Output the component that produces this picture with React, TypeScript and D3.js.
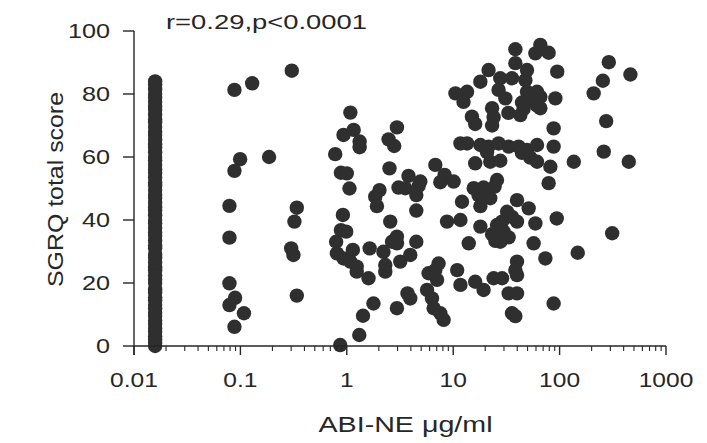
import React from "react";
import * as d3 from "d3";

// Undetectable ABI-NE (plotted at the lower detection column)
const zeroColumnX = 0.0158;
const zeroColumnScores = [0, 1, 2, 3, 4.5, 5.5, 7, 8, 9.5, 10.5, 12, 13, 14.5, 15.5, 17, 18, 20, 21, 22.5, 24, 25, 26.5, 28, 29, 31, 32, 33.5, 35, 36, 37.5, 39, 40, 41.5, 43, 44, 45.5, 47, 48, 49.5, 51, 52, 53.5, 55, 56, 57.5, 59, 60, 61.5, 63, 64, 65.5, 67, 68, 69.5, 71, 72, 73.5, 75, 76, 77.5, 79, 80, 81.5, 83, 84];

// Detectable ABI-NE (µg/ml) and SGRQ total score
const abiNE = [
  0.0879, 0.129, 0.304, 0.0994, 0.0879, 0.186, 0.0789, 0.339, 0.322, 0.0789, 0.3, 0.315, 0.0789, 0.0891, 0.0789, 0.108, 0.0879, 0.339,
  1.08, 0.931, 1.16, 1.32, 1.32, 0.778, 0.88, 1.0, 1.06, 0.919, 0.88, 0.987, 0.794, 0.807, 0.931, 1.08, 1.24, 1.24, 1.14, 1.6, 1.64, 1.78, 1.42, 1.31, 0.867,
  2.96, 2.47, 2.79, 2.52, 2.03, 1.85, 1.92, 3.06, 3.54, 3.8, 4.91, 4.73, 4.5, 4.5, 2.56, 2.96, 2.96, 2.66, 2.21, 2.3, 2.3, 3.18, 3.95, 4.5, 3.72, 3.95, 2.96,
  6.79, 8.3, 7.57, 10.1, 5.87, 6.79, 7.29, 7.05, 5.68, 6.32, 6.55, 7.57, 8.13, 10.9, 8.75, 11.7, 14.0, 11.7, 16.1, 19.3, 24.0, 28.8, 35.7, 38.4, 39.8, 38.4, 39.8, 33.2, 39.8,
  38.4, 65.9, 59.2, 78.9, 38.4, 49.4, 95, 21.5, 18.0, 27.7, 35.7, 47.7, 10.5, 13.5, 12.5, 26.7, 30.9, 49.4, 61.4, 65.9, 53.1, 44.3, 61.4, 45.9, 65.9, 91.2, 23.2, 24.0, 33, 42.8, 15.0, 16.1, 23.2, 87.9,
  11.7, 13.5, 18.0, 21.5, 26.7, 33.2, 41.2, 49.4, 61.4, 53.1, 87.9, 20.8, 44.3, 22.3, 16.1, 27.7, 81.9, 136, 260, 447, 290, 463, 255, 209, 274,
  15.6, 19.3, 24.5, 78.9, 61.4, 25.8,
  12.1, 17.3, 18.0, 22.3, 39.8, 51.2, 32.1,
  18.0, 25.8, 28.8, 39.8, 35.7, 29.8, 23.2, 33.2, 27.7, 24.9, 59.2, 94, 57.0, 73.5, 148, 312, 87.9
];
const sgrqScore = [
  81.3, 83.4, 87.4, 59.3, 55.6, 60.0, 44.5, 43.9, 39.5, 34.4, 31.0, 28.9, 19.9, 15.3, 13.0, 10.4, 6.1, 16.0,
  74.1, 67.0, 68.6, 64.9, 63.1, 60.9, 55.0, 54.8, 50.0, 41.6, 36.8, 36.3, 33.1, 29.4, 27.8, 26.8, 25.2, 23.6, 30.5, 21.5, 31.0, 13.5, 9.6, 3.5, 0.3,
  69.4, 65.6, 63.5, 56.4, 49.5, 47.4, 44.4, 50.3, 50.1, 54.0, 52.2, 50.8, 47.9, 43.0, 39.5, 34.7, 32.6, 33.1, 29.9, 25.7, 23.6, 26.8, 28.9, 33.1, 16.7, 15.1, 12.0,
  57.5, 54.3, 52.0, 52.2, 23.1, 24.1, 26.2, 21.0, 17.8, 15.1, 12.0, 10.4, 8.3, 24.1, 39.5, 40.0, 32.6, 19.4, 20.4, 17.8, 21.5, 21.5, 10.4, 9.5, 26.8, 24.1, 22.5, 16.7, 16.7,
  94.2, 95.6, 92.9, 93.1, 89.8, 87.6, 87.1, 87.6, 83.9, 85.0, 85.0, 84.4, 80.2, 80.7, 77.5, 81.3, 78.6, 80.7, 80.7, 79.1, 78.2, 77.3, 76.3, 75.3, 75.5, 78.6, 75.5, 72.6, 74, 73.3, 72.8, 70.5, 70.0, 69.1,
  64.3, 64.3, 63.8, 63.3, 64.3, 63.3, 63.3, 62.2, 63.8, 59.8, 63.3, 61.5, 61.3, 58.5, 58.0, 58.8, 56.9, 58.5, 61.7, 58.5, 90.1, 86.2, 84.2, 80.2, 71.4,
  50.1, 50.3, 50.6, 51.7, 58.5, 52.7,
  45.8, 47.9, 44.4, 46.9, 46.3, 43.7, 42.6,
  37.9, 38.4, 39.5, 39.5, 41.0, 36.3, 35.5, 34.5, 33.1, 33.4, 38.9, 40.5, 32.6, 27.8, 29.6, 35.8, 13.5
];

const yTicks = [0, 20, 40, 60, 80, 100];
const xTickValues = [0.01, 0.1, 1, 10, 100, 1000];
const xTickLabels = ["0.01", "0.1", "1", "10", "100", "1000"];
const title = "r=0.29,p<0.0001";
const xTitle = "ABI-NE \u03bcg/ml";
const yTitle = "SGRQ total score";

export default function App() {
  const W = 707, H = 443;
  const x = d3.scaleLog().domain([0.01, 1000]).range([134, 666]);
  const y = d3.scaleLinear().domain([0, 100]).range([346, 31]);
  const font = "'Liberation Sans', Arial, Helvetica, sans-serif";
  const ink = "#262626";

  const minor: number[] = [];
  for (let e = -2; e < 3; e++) {
    for (let m = 2; m <= 9; m++) minor.push(m * Math.pow(10, e));
  }

  const points = abiNE.map((v, i) => ({ v, s: sgrqScore[i] }));
  const [x0, y0] = [x.range()[0], y.range()[0]];

  return (
    <svg width={W} height={H} style={{ position: "absolute", left: 0, top: 0, background: "#fff" }} fontFamily={font}>
      {/* points */}
      <g fill="#2f2f2f">
        {zeroColumnScores.map((s, i) => (
          <circle key={"z" + i} cx={x(zeroColumnX)} cy={y(s)} r={7.2} />
        ))}
        {points.map((p, i) => (
          <circle key={"p" + i} cx={x(p.v)} cy={y(p.s)} r={7.2} />
        ))}
      </g>

      {/* axes */}
      <g stroke={ink} strokeWidth={1.4} fill="none">
        <line x1={x0} x2={x0} y1={y(100)} y2={y0 + 9} />
        <line x1={x0} x2={x.range()[1]} y1={y0} y2={y0} />
        {yTicks.map((t) => (
          <line key={"yt" + t} x1={x0 - 11} x2={x0} y1={y(t)} y2={y(t)} />
        ))}
        {xTickValues.map((t) => (
          <line key={"xt" + t} x1={x(t)} x2={x(t)} y1={y0} y2={y0 + 9} />
        ))}
        {minor.map((t, i) => (
          <line key={"xm" + i} x1={x(t)} x2={x(t)} y1={y0} y2={y0 + 5} strokeWidth={1.1} />
        ))}
      </g>

      {/* y tick labels */}
      <g fill={ink} fontSize={21}>
        {yTicks.map((t) => (
          <g key={"yl" + t} transform={`translate(110,${y(t) + 7.3}) scale(1.2,1)`}>
            <text textAnchor="end">{t}</text>
          </g>
        ))}
        {xTickValues.map((t, i) => (
          <g key={"xl" + t} transform={`translate(${x(t)},386.7) scale(1.17,1)`}>
            <text textAnchor="middle">{xTickLabels[i]}</text>
          </g>
        ))}
      </g>

      {/* titles */}
      <text x={166} y={29.3} fontSize={21} fill={ink} textLength={201} lengthAdjust="spacingAndGlyphs">{title}</text>
      <text x={318.5} y={432.3} fontSize={22} fill={ink} textLength={174} lengthAdjust="spacingAndGlyphs">{xTitle}</text>
      <g transform={`translate(63,287) rotate(-90)`}>
        <text x={0} y={0} fontSize={22} fill={ink} textLength={195} lengthAdjust="spacingAndGlyphs">{yTitle}</text>
      </g>
    </svg>
  );
}
